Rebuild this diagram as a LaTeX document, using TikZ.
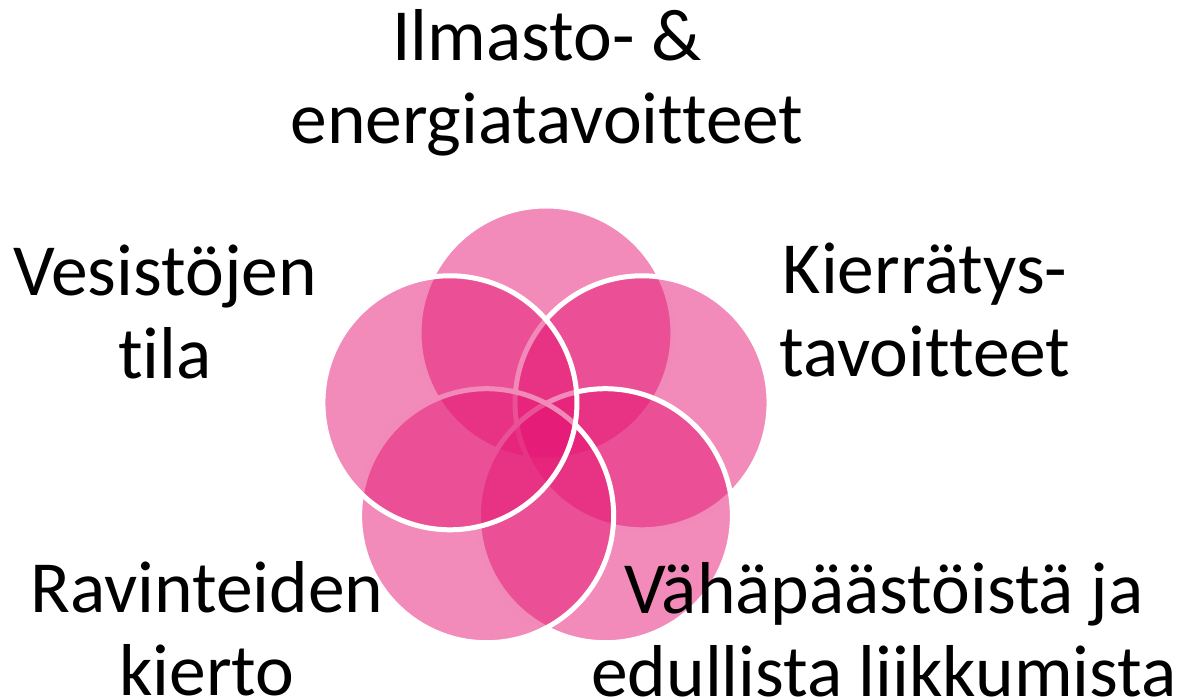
\documentclass[tikz,border=0pt]{standalone}
\usepackage{fontspec}
\setmainfont{Carlito}[Ligatures=NoCommon]
\definecolor{petalpink}{RGB}{229,23,116}

\begin{document}
\begin{tikzpicture}[x=1pt,y=-1pt,
    petal/.style={fill=petalpink,fill opacity=0.5,draw=white,line width=5pt},
    goal/.style={align=center,anchor=base,text=black,
        font=\fontsize{73.5}{83}\selectfont}]
\useasboundingbox (0,0) rectangle (1183,700);
\coordinate (mid) at (546,434);
\foreach \a in {90,18,-54,-126,162}
    \draw[petal] (mid) ++(\a:101pt) circle[radius=127pt];
\node[goal] (ilmasto) at (547,144) {Ilmasto- \&\\energiatavoitteet};
\node[goal] (vesisto) at (165,378) {Vesistöjen\\tila};
\node[goal] (kierratys) at (925,377) {Kierrätys-\\tavoitteet};
\node[goal] (ravinteet) at (207,695) {Ravinteiden\\kierto};
\node[goal] (liikkuminen) at (884,696) {Vähäpäästöistä ja\\edullista liikkumista};
\end{tikzpicture}
\end{document}
